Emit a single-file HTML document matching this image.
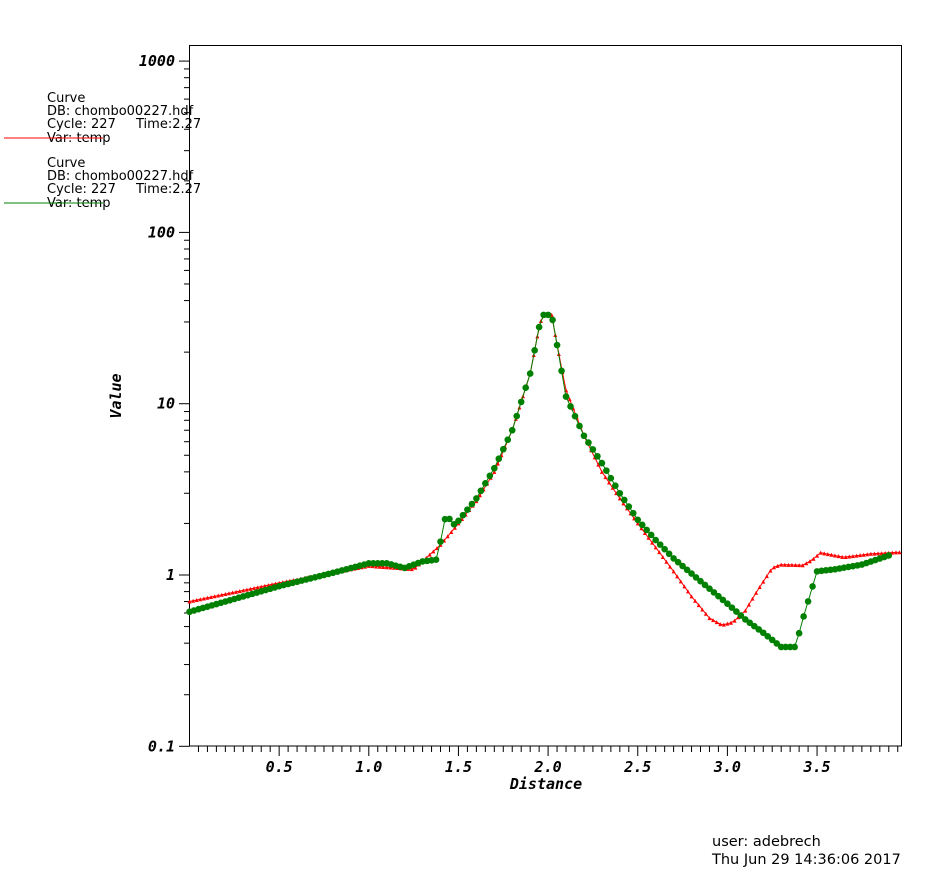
<!DOCTYPE html>
<html><head><meta charset="utf-8">
<style>
body{margin:0;background:#fff;width:950px;height:878px;overflow:hidden}
svg{position:absolute;left:0;top:0}
.ax{font-family:"DejaVu Sans Mono","Liberation Mono",monospace;font-weight:bold;font-style:italic;font-size:15px}
.lg{font-family:"DejaVu Sans","Liberation Sans",sans-serif;font-size:13px}
</style></head><body>
<svg id="s" width="950" height="878" xmlns="http://www.w3.org/2000/svg"></svg>
<script>
const s=document.getElementById('s');
let h='';
const X=x=>189.5+x*179.3, Y=v=>575-Math.log10(v)*171.3;
h+='<rect x="189.5" y="45.5" width="712" height="700.5" fill="none" stroke="#000" stroke-width="1"/>';
for(let i=1;i*0.05<3.97;i++){const x=X(i*0.05);const maj=i%10==0;h+=`<line x1="${x}" y1="746" x2="${x}" y2="${maj?756:752}" stroke="#000"/>`;}
['0.5','1.0','1.5','2.0','2.5','3.0','3.5'].forEach(t=>{h+=`<text class="ax" x="${X(+t)}" y="772" text-anchor="middle">${t}</text>`});
h+='<text class="ax" x="546" y="789" text-anchor="middle">Distance</text>';
for(let d=-1;d<=3;d++){for(let m=1;m<10;m++){const v=m*Math.pow(10,d);const y=Y(v);if(y<45)break;h+=`<line x1="${m==1?179:184}" y1="${y}" x2="189.5" y2="${y}" stroke="#000"/>`;}}
[['1000',3],['100',2],['10',1],['1',0],['0.1',-1]].forEach(([t,d])=>{h+=`<text class="ax" x="175" y="${Y(Math.pow(10,d))+5}" text-anchor="end">${t}</text>`});
h+='<text class="ax" transform="translate(121,396) rotate(-90)" text-anchor="middle">Value</text>';
function interp(pts,x){for(let i=0;i<pts.length-1;i++){const[a,va]=pts[i],[b,vb]=pts[i+1];if(x>=a&&x<=b){const t=(x-a)/(b-a);return Math.pow(10,Math.log10(va)+t*(Math.log10(vb)-Math.log10(va)));}}return pts[pts.length-1][1];}
const red=[[0,0.70],[0.5,0.9],[1.0,1.13],[1.25,1.08],[1.4,1.5],[1.5,2.0],[1.6,2.7],[1.7,4],[1.8,7],[1.9,15],[1.95,28],[1.97,33],[2.02,33],[2.05,22],[2.1,12],[2.2,6.5],[2.3,4],[2.4,2.8],[2.5,2.0],[2.6,1.45],[2.7,1.05],[2.8,0.75],[2.9,0.56],[2.97,0.51],[3.03,0.53],[3.1,0.62],[3.17,0.82],[3.25,1.1],[3.3,1.15],[3.42,1.14],[3.47,1.22],[3.52,1.35],[3.65,1.27],[3.8,1.33],[3.97,1.36]];
const grn=[[0,0.61],[0.5,0.86],[0.8,1.03],[1.0,1.17],[1.1,1.17],[1.2,1.1],[1.3,1.2],[1.38,1.23],[1.43,2.25],[1.48,1.95],[1.6,2.8],[1.7,4.2],[1.8,7],[1.9,15],[1.95,28],[1.97,33],[2.02,33],[2.05,22],[2.1,11],[2.2,6.5],[2.3,4.5],[2.4,3.0],[2.5,2.1],[2.6,1.6],[2.7,1.25],[2.85,0.92],[3.0,0.68],[3.1,0.55],[3.2,0.46],[3.3,0.38],[3.38,0.38],[3.42,0.55],[3.5,1.05],[3.6,1.08],[3.75,1.15],[3.9,1.3]];
function curve(pts,step,end,col,mk){let p=[],m='';for(let x=0;x<=end+1e-9;x+=step){const px=X(x),py=Y(interp(pts,x));p.push(px.toFixed(1)+','+py.toFixed(1));
 if(mk=='t')m+=`<polygon points="${px-2},${py+2} ${px+2},${py+2} ${px},${py-2}" fill="${col}"/>`;else m+=`<circle cx="${px}" cy="${py}" r="3.3" fill="${col}"/>`;}
 h+=`<polyline points="${p.join(' ')}" fill="none" stroke="${col}" stroke-width="1"/>`+m;}
curve(red,0.02,3.97,'#f00','t');
curve(grn,0.025,3.9,'#008000','c');
const L=(y0,col)=>{h+=`<text class="lg" x="47" y="${y0}">Curve</text><text class="lg" x="47" y="${y0+13}">DB: chombo00227.hdf</text><text class="lg" x="47" y="${y0+26}">Cycle: 227</text><text class="lg" x="136" y="${y0+26}">Time:2.27</text><text class="lg" x="47" y="${y0+40}">Var: temp</text><line x1="4" y1="${y0+36}" x2="103" y2="${y0+36}" stroke="${col}"/>`};
L(102,'#f00');L(167,'#008000');
h+='<text class="lg" x="712" y="846" style="font-size:14.5px">user: adebrech</text><text class="lg" x="712" y="864" style="font-size:14.5px">Thu Jun 29 14:36:06 2017</text>';
s.innerHTML=h;
</script>
</body></html>
